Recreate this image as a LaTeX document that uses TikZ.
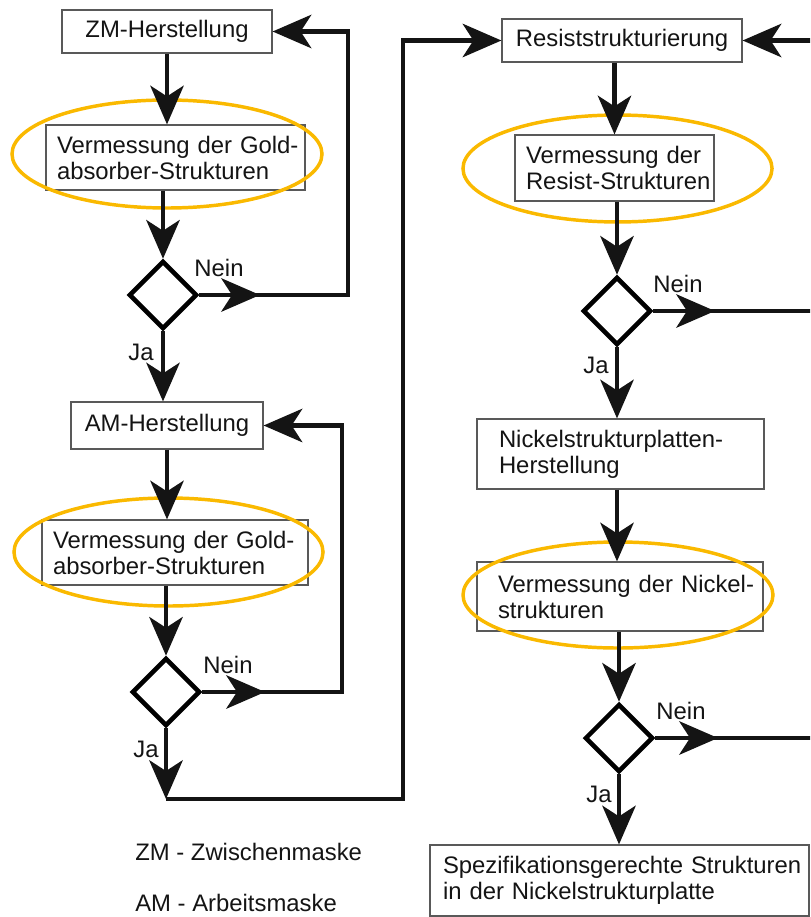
\documentclass[tikz,border=0pt]{standalone}
\usepackage{fontspec}
\setmainfont{Liberation Sans}
\usetikzlibrary{arrows.meta,shapes.geometric}
\definecolor{ringcol}{RGB}{250,185,0}
\begin{document}
\begin{tikzpicture}[x=0.75pt,y=-0.75pt,
  every node/.style={font=\fontsize{17.9pt}{19.5pt}\selectfont, text=black!92},
  box/.style={draw=black!65, line width=0.9pt, inner ysep=0pt, align=left},
  dia/.style={diamond, draw=black, line width=3.4pt, minimum width=51pt, minimum height=51pt, inner sep=0pt},
  conn/.style={line width=3.4pt, draw=black!92},
  tip/.style={-{Stealth[length=29pt,width=25pt,inset=8pt]}},
  ringe/.style={draw=ringcol, line width=2.6pt},
  lbl/.style={inner sep=0pt}]
\useasboundingbox (0,0) rectangle (810,917);
\clip (0,0) rectangle (810,917);

% boxes
\node[box, minimum width=157.5pt, minimum height=32.25pt, inner xsep=0pt] (zm) at (167,31.5) {ZM-Herstellung};
\node[box, minimum height=48.75pt, inner xsep=8.25pt, text width=177.75pt] (g1) at (175.5,157.5) {\mbox{Vermessung der Gold-}\\\mbox{absorber-Strukturen}};
\node[box, minimum width=144pt, minimum height=35.25pt, inner xsep=0pt] (am) at (167,425.5) {AM-Herstellung};
\node[box, minimum height=48.75pt, inner xsep=8.25pt, text width=183pt] (g2) at (175,552.5) {\mbox{Vermessung der Gold-}\\\mbox{absorber-Strukturen}};
\node[box, minimum width=180pt, minimum height=32.25pt, inner xsep=0pt] (rs) at (622,40.5) {Resiststrukturierung};
\node[box, minimum height=49.5pt, inner xsep=8.25pt, text width=132.75pt] (rv) at (614.5,168) {\mbox{Vermessung der}\\\mbox{Resist-Strukturen}};
\node[box, minimum height=52.5pt, inner xsep=16.5pt, text width=182.25pt] (ni) at (620.5,454) {\mbox{Nickelstrukturplatten-}\\\mbox{Herstellung}};
\node[box, minimum height=51.75pt, inner xsep=15.75pt, text width=183pt] (nv) at (620,596.5) {\mbox{Vermessung der Nickel-}\\\mbox{strukturen}};
\node[box, minimum height=53.25pt, inner xsep=9.75pt, text width=264.75pt] (sp) at (619.5,880.5) {\mbox{Spezifikationsgerechte Strukturen}\\\mbox{in der Nickelstrukturplatte}};

% decisions
\node[dia] (d1) at (163,295) {};
\node[dia] (d2) at (166,692) {};
\node[dia] (d3) at (617,311) {};
\node[dia] (d4) at (619,738) {};

% labels
\node[lbl] (n1) at (219,268) {Nein};
\node[lbl] (n2) at (228,665) {Nein};
\node[lbl] (n3) at (678,284) {Nein};
\node[lbl] (n4) at (681,711) {Nein};
\node[lbl] (ja1) at (141,352) {Ja};
\node[lbl] (ja2) at (146,749) {Ja};
\node[lbl] (ja3) at (596,365) {Ja};
\node[lbl] (ja4) at (599,794) {Ja};
\node[lbl, anchor=west] (lz) at (135,852) {ZM - Zwischenmaske};
\node[lbl, anchor=west] (la) at (135,903) {AM - Arbeitsmaske};

% helper coordinates
\coordinate (r1) at (348,0);
\coordinate (r2) at (342,0);
\coordinate (r3) at (403,0);
\coordinate (r4) at (830,0);
\coordinate (a1) at (260,0);
\coordinate (a2) at (265,0);
\coordinate (a3) at (715,0);
\coordinate (a4) at (718,0);
\coordinate (j2c) at (166,799);

% highlight rings
\draw[ringe] (167,154) ellipse [x radius=116.25pt, y radius=40.5pt];
\draw[ringe] (168.5,552) ellipse [x radius=115.9pt, y radius=40.5pt];
\draw[ringe] (617.5,168.5) ellipse [x radius=115.9pt, y radius=40.1pt];
\draw[ringe] (618,595) ellipse [x radius=116.25pt, y radius=39.75pt];

% left column
\draw[conn,tip] (zm.south) -- (zm.south |- g1.north);
\draw[conn,tip] (d1 |- g1.south) -- (d1.north);
\draw[conn,tip] (d1.south) -- (d1.south |- am.north);
\draw[conn,tip] (am.south) -- (am.south |- g2.north);
\draw[conn,tip] (d2 |- g2.south) -- (d2.north);
\draw[conn,tip] (d2.south) -- (j2c);
\draw[conn,tip] (j2c) -- (j2c -| r3) |- (rs.west);

\draw[conn,tip] (d1.east) -- (d1.east -| r1) |- (zm.east);
\draw[conn,tip] (d1.east) -- (d1.east -| a1);
\draw[conn,tip] (d2.east) -- (d2.east -| r2) |- (am.east);
\draw[conn,tip] (d2.east) -- (d2.east -| a2);

% right column
\draw[conn,tip] (rv.north |- rs.south) -- (rv.north);
\draw[conn,tip] (d3 |- rv.south) -- (d3.north);
\draw[conn,tip] (d3.south) -- (d3.south |- ni.north);
\draw[conn,tip] (d3 |- ni.south) -- (d3 |- nv.north);
\draw[conn,tip] (d4 |- nv.south) -- (d4.north);
\draw[conn,tip] (d4.south) -- (d4.south |- sp.north);

\draw[conn,tip] (d4.east) -- (d4.east -| r4) |- (rs.east);
\draw[conn] (d3.east) -- (d3.east -| r4);
\draw[conn,tip] (d3.east) -- (d3.east -| a3);
\draw[conn,tip] (d4.east) -- (d4.east -| a4);
\end{tikzpicture}
\end{document}
